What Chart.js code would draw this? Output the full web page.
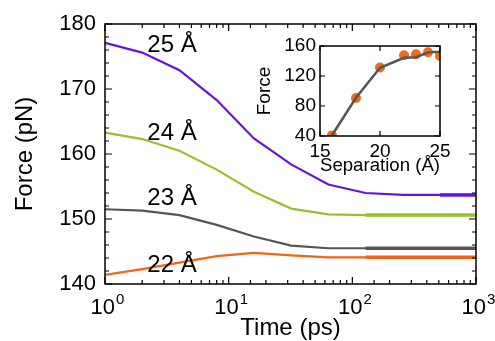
<!DOCTYPE html>
<html>
<head>
<meta charset="utf-8">
<script src="https://cdn.jsdelivr.net/npm/chart.js@4.4.0/dist/chart.umd.min.js"></script>
<style>
  html, body { margin: 0; padding: 0; background: #fff; }
  #wrap { position: relative; width: 495px; height: 341px; }
  #main { position: absolute; left: 0; top: 0; }
  #inset { position: absolute; left: 240px; top: 30px; }
</style>
</head>
<body>
<div id="wrap">
  <canvas id="main" width="495" height="341"></canvas>
  <canvas id="inset" width="215" height="150"></canvas>
</div>
<script>
// Force relaxation vs time, one curve per separation
const times = [1, 2, 4, 8, 16, 32, 64, 128, 256, 512, 1000];
const force22 = [141.4, 142.3, 143.3, 144.3, 144.8, 144.4, 144.1, 144.1, 144.1, 144.1, 144.1];
const force23 = [151.5, 151.3, 150.6, 149.1, 147.3, 145.9, 145.5, 145.5, 145.5, 145.5, 145.5];
const force24 = [163.3, 162.3, 160.5, 157.6, 154.2, 151.6, 150.7, 150.6, 150.6, 150.6, 150.6];
const force25 = [177.1, 175.6, 172.9, 168.3, 162.4, 158.4, 155.3, 154.0, 153.7, 153.7, 153.7];
const curveLabels = ['22 Å', '23 Å', '24 Å', '25 Å'];
const yTicksMain = [140, 150, 160, 170, 180];
const xDecades = [1, 10, 100, 1000];

// Inset: force vs separation
const separation = [16, 18, 20, 22, 23, 24, 25];
const forcePoints = [40.8, 90.7, 131.4, 147.7, 149.0, 151.7, 146.8];
const forceLine = [41, 91, 131, 144.3, 145, 151.5, 152.5];

const FONT = '"Liberation Sans", Arial, Helvetica, sans-serif';
const COLORS = { c22: '#f06414', c23: '#555555', c24: '#98bf2c', c25: '#6414dc' };

function xy(xs, ys) {
  return xs.map((x, i) => ({ x: x, y: ys[i] }));
}

function lineSet(xs, ys, color, width) {
  return {
    data: xy(xs, ys),
    borderColor: color,
    borderWidth: width,
    pointRadius: 0,
    tension: 0,
    fill: false
  };
}

/**
 * Draw inward ticks on all four sides plus the top/right frame.
 */
function drawFrame(chart, majorLen, minorLen, isMajorX, isMajorY) {
  const { ctx, chartArea: a, scales } = chart;
  ctx.save();
  ctx.strokeStyle = '#000';
  ctx.lineWidth = 1.5;
  ctx.strokeRect(a.left, a.top, a.right - a.left, a.bottom - a.top);
  ctx.lineWidth = 1.2;
  ctx.beginPath();
  scales.x.ticks.forEach(t => {
    const len = isMajorX(t.value) ? majorLen : minorLen;
    if (!len) return;
    const px = scales.x.getPixelForValue(t.value);
    ctx.moveTo(px, a.bottom); ctx.lineTo(px, a.bottom - len);
    ctx.moveTo(px, a.top); ctx.lineTo(px, a.top + len);
  });
  scales.y.ticks.forEach(t => {
    const len = isMajorY(t.value) ? majorLen : minorLen;
    if (!len) return;
    const py = scales.y.getPixelForValue(t.value);
    ctx.moveTo(a.left, py); ctx.lineTo(a.left + len, py);
    ctx.moveTo(a.right, py); ctx.lineTo(a.right - len, py);
  });
  ctx.stroke();
  ctx.restore();
}

function isDecade(v) {
  return xDecades.includes(v);
}

const mainDecor = {
  id: 'mainDecor',
  afterDatasetsDraw(chart) {
    drawFrame(chart, 7, 4, isDecade, v => yTicksMain.includes(v));
    const { ctx, scales } = chart;
    ctx.save();
    ctx.fillStyle = '#000';
    // curve labels, anchored in data coordinates
    const labelAt = [[2.2, 141.9], [2.2, 152.15], [2.2, 162.2], [2.2, 175.7]];
    ctx.font = '24px ' + FONT;
    ctx.textAlign = 'left';
    ctx.textBaseline = 'alphabetic';
    curveLabels.forEach((txt, i) => {
      ctx.fillText(txt, scales.x.getPixelForValue(labelAt[i][0]), scales.y.getPixelForValue(labelAt[i][1]));
    });
    // x tick labels as 10^n
    const base = chart.chartArea.bottom + 30;
    xDecades.forEach(v => {
      const px = scales.x.getPixelForValue(v);
      const exp = String(Math.round(Math.log10(v)));
      ctx.font = '22px ' + FONT;
      const w1 = ctx.measureText('10').width;
      ctx.font = '15px ' + FONT;
      const w2 = ctx.measureText(exp).width;
      const start = px - (w1 + w2) / 2 + 2;
      ctx.font = '22px ' + FONT;
      ctx.fillText('10', start, base);
      ctx.font = '15px ' + FONT;
      ctx.fillText(exp, start + w1 + 1, base - 10);
    });
    ctx.restore();
  }
};

new Chart(document.getElementById('main'), {
  type: 'line',
  data: {
    datasets: [
      lineSet(times, force22, COLORS.c22, 2.2),
      lineSet(times, force23, COLORS.c23, 2.2),
      lineSet(times, force24, COLORS.c24, 2.2),
      lineSet(times, force25, COLORS.c25, 2.2),
      lineSet(times.slice(7), force22.slice(7), COLORS.c22, 3.5),
      lineSet(times.slice(7), force23.slice(7), COLORS.c23, 3.5),
      lineSet(times.slice(7), force24.slice(7), COLORS.c24, 3.5),
      lineSet(times.slice(9), force25.slice(9), COLORS.c25, 3.5)
    ]
  },
  options: {
    responsive: false,
    animation: false,
    layout: { padding: { top: 24, right: 19, left: 0, bottom: 0 } },
    plugins: { legend: { display: false }, tooltip: { enabled: false } },
    scales: {
      x: {
        type: 'logarithmic',
        min: 1,
        max: 1000,
        grid: { display: false, drawTicks: false },
        border: { display: false },
        ticks: { autoSkip: false, maxRotation: 0, callback: () => '' },
        title: {
          display: true, text: 'Time (ps)', color: '#000',
          font: { family: FONT, size: 24, lineHeight: 1 },
          padding: { top: 0, bottom: 1 }
        },
        afterFit(scale) { scale.height = 57; }
      },
      y: {
        min: 140,
        max: 180,
        grid: { display: false, drawTicks: false },
        border: { display: false },
        ticks: {
          stepSize: 2, autoSkip: false, color: '#000', padding: 9,
          font: { family: FONT, size: 22 },
          callback: v => (yTicksMain.includes(v) ? String(v) : '')
        },
        title: {
          display: true, text: 'Force (pN)', color: '#000',
          font: { family: FONT, size: 24, lineHeight: 1 },
          padding: { top: 13, bottom: 0 }
        },
        afterFit(scale) { scale.width = 105; }
      }
    }
  },
  plugins: [mainDecor]
});

const insetDecor = {
  id: 'insetDecor',
  afterDatasetsDraw(chart) {
    drawFrame(chart, 5, 0, () => true, () => true);
  }
};

new Chart(document.getElementById('inset'), {
  type: 'line',
  data: {
    datasets: [
      lineSet(separation, forceLine, '#555555', 2.5),
      {
        data: xy(separation, forcePoints),
        showLine: false,
        pointRadius: 5,
        pointBackgroundColor: '#f26a1b',
        pointBorderWidth: 0
      }
    ]
  },
  options: {
    responsive: false,
    animation: false,
    layout: { padding: { top: 16, right: 15, left: 0, bottom: 0 } },
    plugins: { legend: { display: false }, tooltip: { enabled: false } },
    scales: {
      x: {
        type: 'linear',
        min: 15,
        max: 25,
        grid: { display: false, drawTicks: false },
        border: { display: false },
        ticks: { stepSize: 5, color: '#000', padding: 4, font: { family: FONT, size: 19 } },
        title: {
          display: true, text: 'Separation (Å)', color: '#000',
          font: { family: FONT, size: 19, lineHeight: 1 },
          padding: { top: 0, bottom: 4.5 }
        },
        afterFit(scale) { scale.height = 44; }
      },
      y: {
        min: 40,
        max: 160,
        grid: { display: false, drawTicks: false },
        border: { display: false },
        ticks: { stepSize: 40, color: '#000', padding: 4, font: { family: FONT, size: 19 } },
        title: {
          display: true, text: 'Force', color: '#000',
          font: { family: FONT, size: 19, lineHeight: 1 },
          padding: { top: 15.5, bottom: 0 }
        },
        afterFit(scale) { scale.width = 80; }
      }
    }
  },
  plugins: [insetDecor]
});
</script>
</body>
</html>
